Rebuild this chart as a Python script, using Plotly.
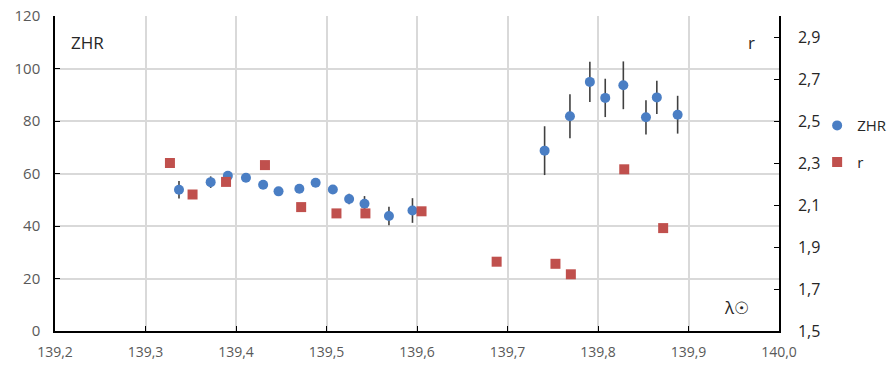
import plotly.graph_objects as go

# ZHR series (left axis)
zhr_x = [139.337, 139.372, 139.391, 139.411, 139.430, 139.447, 139.470, 139.488, 139.507,
         139.525, 139.542, 139.569, 139.595,
         139.741, 139.769, 139.791, 139.808, 139.828, 139.853, 139.865, 139.888]
zhr_y = [53.8, 56.7, 59.1, 58.4, 55.7, 53.2, 54.2, 56.5, 53.9,
         50.3, 48.5, 43.8, 45.9,
         68.7, 81.8, 94.9, 88.8, 93.6, 81.4, 89.0, 82.4]
zhr_err = [3.3, 2.2, 1.6, 1.2, 1.2, 1.2, 1.2, 1.2, 1.4,
           2.0, 2.9, 3.5, 4.7,
           9.3, 8.4, 7.7, 7.3, 9.1, 6.5, 6.3, 7.2]

# r series (right axis)
r_x = [139.327, 139.352, 139.389, 139.432, 139.472, 139.511, 139.543, 139.605,
       139.688, 139.753, 139.770, 139.829, 139.872]
r_y = [2.30, 2.15, 2.21, 2.29, 2.09, 2.06, 2.06, 2.07,
       1.83, 1.82, 1.77, 2.27, 1.99]

x_ticks = [139.2, 139.3, 139.4, 139.5, 139.6, 139.7, 139.8, 139.9, 140.0]

BLUE = "#4A7EC4"
RED = "#C0504D"

fig = go.Figure()
fig.add_trace(go.Scatter(
    x=zhr_x, y=zhr_y, mode="markers", name="ZHR",
    marker=dict(symbol="circle", size=10, color=BLUE),
    error_y=dict(type="data", array=zhr_err, color="#404040", thickness=1.6, width=0),
    legendgroup="a",
))
fig.add_trace(go.Scatter(
    x=r_x, y=r_y, mode="markers", name="r", yaxis="y2",
    marker=dict(symbol="square", size=10, color=RED),
    legendgroup="b",
))

fig.update_layout(
    width=895, height=365,
    margin=dict(l=55, r=116, t=16, b=34, autoexpand=False),
    paper_bgcolor="white", plot_bgcolor="white",
    separators=", ",
    font=dict(family="Open Sans", size=14, color="#595959"),
    xaxis=dict(
        range=[139.2, 140.0], tickvals=x_ticks, tickformat=".1f",
        showgrid=True, gridcolor="#D9D9D9", gridwidth=1.5,
        showline=True, linecolor="black", linewidth=1.5,
        ticks="inside", ticklen=5, tickcolor="black",
        ticklabelstandoff=7, automargin=False,
        tickfont=dict(size=14, color="#595959"), zeroline=False,
    ),
    yaxis=dict(
        range=[0, 120], dtick=20, tick0=0,
        showgrid=True, gridcolor="#D9D9D9", gridwidth=1.5,
        showline=True, linecolor="black", linewidth=1.5,
        ticks="inside", ticklen=5, tickcolor="black",
        ticklabelstandoff=10, automargin=False,
        tickfont=dict(size=15, color="#595959"), zeroline=False,
    ),
    yaxis2=dict(
        overlaying="y", side="right", range=[1.5, 3.0], tick0=1.5, dtick=0.2,
        tickformat=".1f", showgrid=False,
        showline=True, linecolor="black", linewidth=1.5,
        ticks="inside", ticklen=5, tickcolor="black",
        ticklabelstandoff=14, automargin=False,
        tickfont=dict(size=16, color="#262626"), zeroline=False,
    ),
    legend=dict(
        xref="container", yref="container",
        x=0.913, y=0.701, xanchor="left", yanchor="top",
        font=dict(size=15, color="#262626"),
        tracegroupgap=14, traceorder="grouped",
        bgcolor="rgba(0,0,0,0)",
    ),
    annotations=[
        dict(text="ZHR", xref="paper", yref="paper", x=0.02, y=0.915,
             xanchor="left", yanchor="middle", showarrow=False,
             font=dict(size=17, color="#262626")),
        dict(text="r", xref="paper", yref="paper", x=0.97, y=0.915,
             xanchor="right", yanchor="middle", showarrow=False,
             font=dict(size=17, color="#262626")),
        dict(text="λ☉", xref="paper", yref="paper", x=0.962, y=0.075,
             xanchor="right", yanchor="middle", showarrow=False,
             font=dict(size=17, color="#262626")),
    ],
)

fig.write_html("out.html")
